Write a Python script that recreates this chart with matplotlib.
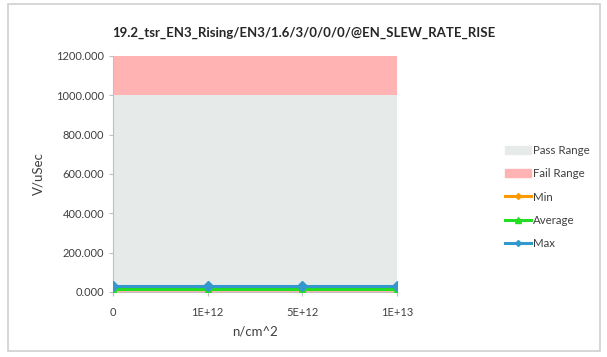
import matplotlib
matplotlib.use("Agg")
import matplotlib.pyplot as plt
from matplotlib.patches import Rectangle, Patch
from matplotlib.lines import Line2D

plt.rcParams['font.family'] = ['Lato', 'DejaVu Sans']

categories = ['0', '1E+12', '5E+12', '1E+13']
fail_low = [5, 5, 5, 5]
pass_upper = [1000, 1000, 1000, 1000]
fail_upper = [1200, 1200, 1200, 1200]
min_vals = [14, 14, 14, 14]
avg_vals = [17, 17, 17, 17]
max_vals = [28, 28, 28, 28]

fig = plt.figure(figsize=(6.07, 3.57), dpi=100)
fig.patches.append(Rectangle((8/607, 6/357), 592/607, 347/357, transform=fig.transFigure,
                             fill=False, edgecolor='#d0d0d0', linewidth=1.2))
ax = fig.add_axes([113/607, 65/357, 284/607, 236/357])
x = list(range(len(categories)))

ax.fill_between(x, 0, fail_low, color='#ffb3b3', linewidth=0)
ax.fill_between(x, fail_low, pass_upper, color='#e6ebea', linewidth=0)
ax.fill_between(x, pass_upper, fail_upper, color='#ffb3b3', linewidth=0)

ax.plot(x, min_vals, color='#ff9900', linewidth=2.2, marker='D', markersize=4, zorder=3)
ax.plot(x, avg_vals, color='#22dd22', linewidth=2.2, marker='^', markersize=5, zorder=3)
ax.plot(x, max_vals, color='#3399cc', linewidth=2.2, marker='D', markersize=5, zorder=4)

ax.set_xlim(0, 3)
ax.set_ylim(0, 1200)
ax.set_xticks(x)
ax.set_xticklabels(categories, fontsize=8)
ax.set_yticks(range(0, 1201, 200))
ax.set_yticklabels([f'{v:.3f}' for v in range(0, 1201, 200)], fontsize=8)
for s in ['top', 'right']:
    ax.spines[s].set_visible(False)
for s in ['left', 'bottom']:
    ax.spines[s].set_color('#bfbfbf')
ax.tick_params(axis='both', colors='#bfbfbf', labelcolor='#404040', length=3)
ax.tick_params(axis='x', pad=8)
ax.set_xlabel('n/cm^2', fontsize=9.5, color='#404040', labelpad=5)
ax.set_ylabel('V/uSec', fontsize=9.5, color='#404040', labelpad=8)

fig.text(0.5, 1 - 33/357, '19.2_tsr_EN3_Rising/EN3/1.6/3/0/0/0/@EN_SLEW_RATE_RISE',
         ha='center', va='center', fontsize=9.5, fontweight='bold', color='#262626')

handles = [Patch(color='#e6ebea'), Patch(color='#ffb3b3'),
           Line2D([], [], color='#ff9900', lw=2.2, marker='D', markersize=3),
           Line2D([], [], color='#22dd22', lw=2.2, marker='^', markersize=4),
           Line2D([], [], color='#3399cc', lw=2.2, marker='D', markersize=3)]
labels = ['Pass Range', 'Fail Range', 'Min', 'Average', 'Max']
fig.legend(handles, labels, loc='center left', bbox_to_anchor=(500/607, 1 - 197/357),
           frameon=False, fontsize=8.3, labelcolor='#404040', handlelength=2.3,
           handletextpad=0.15, labelspacing=1.05, borderaxespad=0)

fig.savefig('out.png', dpi=100)
